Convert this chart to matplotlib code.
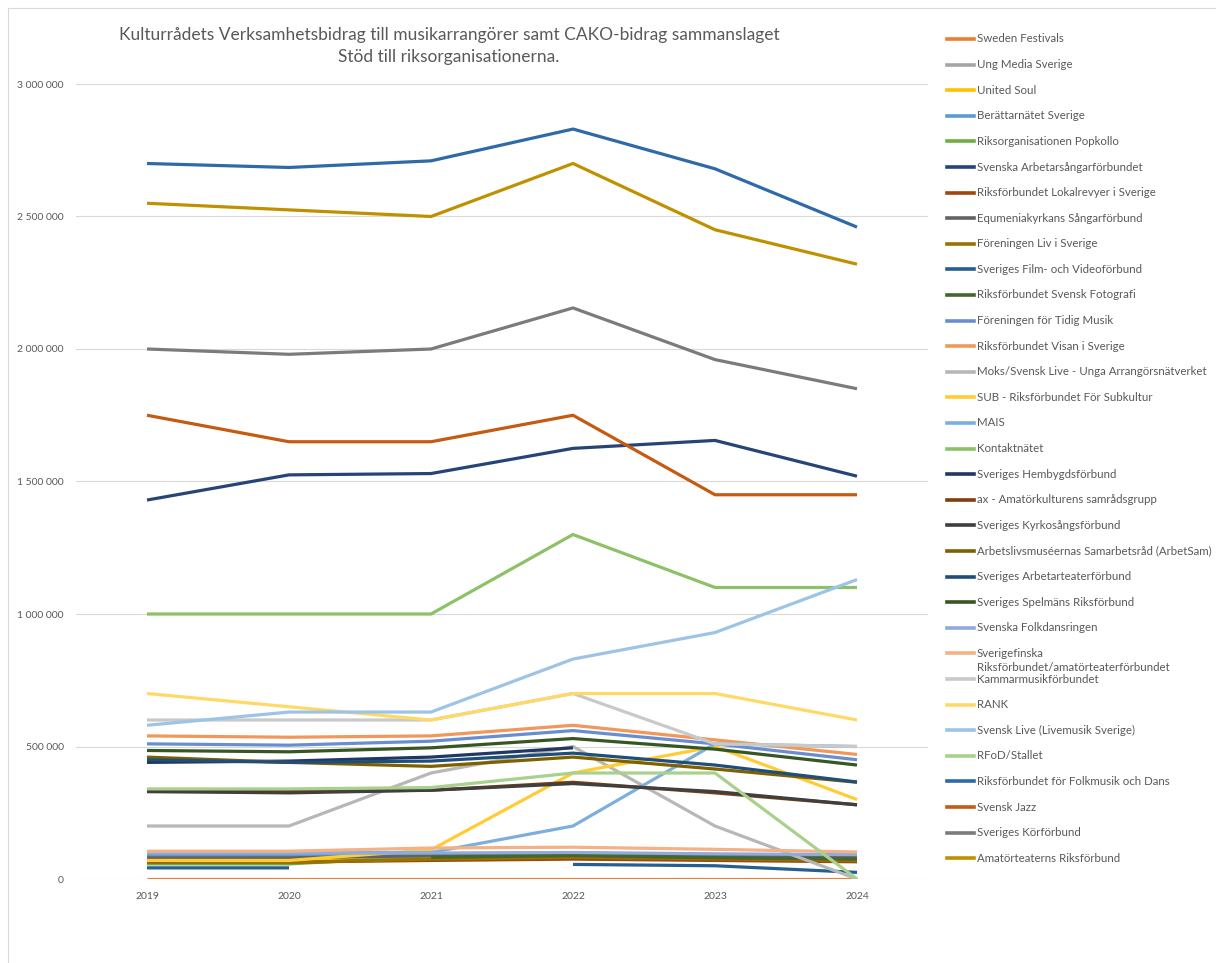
import numpy as np
import matplotlib.pyplot as plt
from matplotlib.lines import Line2D
from matplotlib.patches import Rectangle
from matplotlib.ticker import FuncFormatter

nan = np.nan
years = ['2019', '2020', '2021', '2022', '2023', '2024']

# värden i kronor, avlästa ur originaldiagrammet
sweden_festivals = [0, 0, 0, 0, 0, 0]
ung_media = [85000, 85000, 90000, 95000, 90000, 85000]
united_soul = [72000, 72000, 85000, 90000, 85000, 80000]
berattarnatet = [92000, 92000, 95000, 98000, 92000, 88000]
popkollo = [57000, 57000, 85000, 88000, 82000, 78000]
arbetarsangar = [1430000, 1525000, 1530000, 1625000, 1655000, 1520000]
lokalrevyer = [64000, 64000, 70000, 75000, 70000, 65000]
equmenia = [80000, 80000, 88000, 92000, 86000, 82000]
liv_i_sverige = [68000, 62000, 75000, 82000, 76000, 70000]
film_video = [42000, 42000, nan, 55000, 50000, 25000]
fotografi = [nan, nan, 82000, 88000, 80000, 75000]
tidig_musik = [510000, 505000, 520000, 560000, 510000, 450000]
visan = [540000, 535000, 540000, 580000, 525000, 470000]
moks = [200000, 200000, 400000, 500000, 200000, 0]
sub = [70000, 70000, 110000, 400000, 500000, 300000]
mais = [100000, 100000, 100000, 200000, 510000, 500000]
kontaktnatet = [1000000, 1000000, 1000000, 1300000, 1100000, 1100000]
hembygd = [440000, 445000, 460000, 495000, nan, nan]
ax_samrad = [330000, 330000, 335000, 365000, 325000, 280000]
kyrkosang = [330000, 325000, 335000, 360000, 330000, 280000]
arbetsam = [460000, 440000, 425000, 460000, 415000, 365000]
arbetarteater = [450000, 440000, 445000, 475000, 430000, 366000]
spelmans = [485000, 480000, 495000, 530000, 490000, 430000]
folkdansringen = [98000, 98000, 98000, 100000, 95000, 92000]
sverigefinska = [105000, 105000, 117000, 120000, 112000, 102000]
kammarmusik = [600000, 600000, 600000, 700000, 510000, 500000]
rank = [700000, 650000, 600000, 700000, 700000, 600000]
svensk_live = [580000, 630000, 630000, 830000, 930000, 1130000]
rfod_stallet = [340000, 340000, 345000, 400000, 400000, 0]
folkmusik_dans = [2700000, 2685000, 2710000, 2830000, 2680000, 2460000]
svensk_jazz = [1750000, 1650000, 1650000, 1750000, 1450000, 1450000]
korforbund = [2000000, 1980000, 2000000, 2155000, 1960000, 1850000]
amatorteater = [2550000, 2525000, 2500000, 2700000, 2450000, 2320000]

names = ['Sweden Festivals', 'Ung Media Sverige', 'United Soul', 'Berättarnätet Sverige',
         'Riksorganisationen Popkollo', 'Svenska Arbetarsångarförbundet',
         'Riksförbundet Lokalrevyer i Sverige', 'Equmeniakyrkans Sångarförbund',
         'Föreningen Liv i Sverige', 'Sveriges Film- och Videoförbund',
         'Riksförbundet Svensk Fotografi', 'Föreningen för Tidig Musik',
         'Riksförbundet Visan i Sverige', 'Moks/Svensk Live - Unga Arrangörsnätverket',
         'SUB - Riksförbundet För Subkultur', 'MAIS', 'Kontaktnätet',
         'Sveriges Hembygdsförbund', 'ax - Amatörkulturens samrådsgrupp',
         'Sveriges Kyrkosångsförbund', 'Arbetslivsmuséernas Samarbetsråd (ArbetSam)',
         'Sveriges Arbetarteaterförbund', 'Sveriges Spelmäns Riksförbund',
         'Svenska Folkdansringen', 'Sverigefinska', 'Kammarmusikförbundet', 'RANK',
         'Svensk Live (Livemusik Sverige)', 'RFoD/Stallet',
         'Riksförbundet för Folkmusik och Dans', 'Svensk Jazz', 'Sveriges Körförbund',
         'Amatörteaterns Riksförbund']

series = [sweden_festivals, ung_media, united_soul, berattarnatet, popkollo, arbetarsangar,
          lokalrevyer, equmenia, liv_i_sverige, film_video, fotografi, tidig_musik, visan,
          moks, sub, mais, kontaktnatet, hembygd, ax_samrad, kyrkosang, arbetsam,
          arbetarteater, spelmans, folkdansringen, sverigefinska, kammarmusik, rank,
          svensk_live, rfod_stallet, folkmusik_dans, svensk_jazz, korforbund, amatorteater]

colors = ['#ED7D31', '#A5A5A5', '#FFC000', '#5B9BD5', '#70AD47', '#264478',
          '#9E480E', '#636363', '#997300', '#255E91', '#43682B', '#698ED0',
          '#F1975A', '#B7B7B7', '#FFCD33', '#7CAFDD', '#8CC168', '#203864',
          '#843C0C', '#3F3F3F', '#7F6000', '#1F4E79', '#375623', '#8FAADC',
          '#F4B183', '#C9C9C9', '#FFD966', '#9DC3E6', '#A9D18E', '#2E69A8',
          '#C55A11', '#7B7B7B', '#BF9000']

plt.rcParams['font.family'] = ['Lato', 'DejaVu Sans']
W, H = 1216, 963
fig = plt.figure(figsize=(W / 100, H / 100), dpi=100)
ax = fig.add_axes([76 / W, 1 - 879 / H, 852 / W, 795 / H])

x = np.arange(len(years))
for vals, col in zip(series, colors):
    ax.plot(x, np.array(vals, dtype=float), color=col, lw=2.3, solid_capstyle='butt')

ax.set_xlim(-0.5, len(years) - 0.5)
ax.set_ylim(0, 3000000)
ax.set_xticks(x)
ax.set_xticklabels(years)
ax.set_yticks(np.arange(0, 3000001, 500000))
ax.yaxis.set_major_formatter(FuncFormatter(lambda v, p: f'{int(v):,}'.replace(',', ' ')))
ax.tick_params(length=0, labelsize=7.5, labelcolor='#595959')
ax.tick_params(axis='y', pad=9)
ax.tick_params(axis='x', pad=9)
ax.grid(axis='y', color='#D9D9D9', lw=0.8)
ax.set_axisbelow(True)
for s in ax.spines.values():
    s.set_visible(False)

fig.text(449 / W, 1 - 46 / H,
         'Kulturrådets Verksamhetsbidrag till musikarrangörer samt CAKO-bidrag sammanslaget\n'
         'Stöd till riksorganisationerna.',
         ha='center', va='center', fontsize=12.5, color='#595959', linespacing=1.4)

# förklaring till höger
for i, (name, col) in enumerate(zip(names, colors)):
    yy = 1 - (39 + i * 25.6) / H
    fig.add_artist(Line2D([947 / W, 974 / W], [yy, yy], color=col, lw=2.6))
    fig.text(977 / W, yy, name, ha='left', va='center', fontsize=8.3, color='#595959')
fig.text(977 / W, 1 - 667 / H, 'Riksförbundet/amatörteaterförbundet',
         ha='left', va='center', fontsize=8.3, color='#595959')

fig.add_artist(Rectangle((8 / W, -0.01), 1.0, 1 - 8 / H + 0.01, fill=False,
                         edgecolor='#D9D9D9', lw=0.8))

fig.savefig('out.png', dpi=100)
